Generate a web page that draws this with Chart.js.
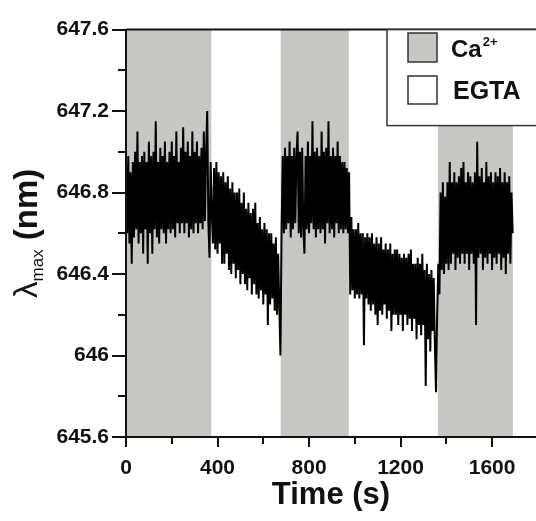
<!DOCTYPE html>
<html>
<head>
<meta charset="utf-8">
<script src="https://cdn.jsdelivr.net/npm/chart.js@4"></script>
<style>
  html, body { margin: 0; padding: 0; background: #fff; }
  #box { width: 536px; height: 521px; }
</style>
</head>
<body>
<div id="box"><canvas id="lambdaChart" width="536" height="521"></canvas></div>
<script>
// sample spacing of the trace (s)
const sampleStep = 5;

// start time of each recorded stretch (s)
const segStarts = [0, 380, 680, 980, 1370];

// lambda max (nm)
const seg1 = [646.95, 646.6, 646.98, 646.55, 646.9, 646.45, 646.95, 646.58, 647.0, 646.62,
              647.1, 646.55, 646.95, 646.6, 646.98, 646.5, 647.0, 646.62, 646.95, 646.45,
              647.05, 646.6, 646.98, 646.5, 647.0, 646.62, 647.15, 646.58, 646.95, 646.55,
              647.02, 646.62, 646.98, 646.6, 647.05, 646.55, 646.95, 646.62, 647.0, 646.6,
              647.05, 646.62, 646.98, 646.58, 647.1, 646.65, 646.95, 646.6, 647.02, 646.65,
              647.12, 646.6, 647.0, 646.65, 647.05, 646.58, 646.98, 646.62, 647.1, 646.6,
              647.0, 646.65, 647.05, 646.6, 646.98, 646.65, 647.02, 646.62, 647.1, 646.66,
              647.0, 647.2, 646.65, 646.48, 646.95, 646.7];
const seg2 = [646.55, 646.92, 646.52, 646.95, 646.5, 646.9, 646.55, 646.88, 646.45, 646.9,
              646.45, 646.85, 646.5, 646.88, 646.42, 646.82, 646.4, 646.85, 646.45, 646.8,
              646.38, 646.8, 646.42, 646.82, 646.35, 646.75, 646.4, 646.8, 646.35, 646.72,
              646.32, 646.75, 646.38, 646.7, 646.3, 646.72, 646.35, 646.75, 646.3, 646.65,
              646.28, 646.68, 646.32, 646.62, 646.25, 646.65, 646.3, 646.62, 646.15, 646.6,
              646.25, 646.6, 646.28, 646.55, 646.22, 646.58, 646.2, 646.5, 646.25, 646.0];
const seg3 = [646.62, 646.98, 646.6, 647.02, 646.62, 646.98, 646.65, 647.05, 646.58, 646.98,
              646.62, 647.02, 646.65, 646.98, 647.1, 646.6, 647.0, 646.58, 647.02, 646.62,
              646.5, 646.98, 646.62, 647.05, 646.6, 646.98, 646.65, 647.15, 646.62, 647.0,
              646.58, 647.02, 646.62, 646.98, 646.6, 647.1, 646.62, 647.0, 646.55, 647.02,
              646.65, 647.15, 646.6, 646.98, 646.62, 647.02, 646.58, 646.98, 646.65, 647.05,
              646.6, 646.98, 646.62, 646.95, 646.6, 646.95, 646.62, 646.92, 646.6, 646.9];
const seg4 = [646.3, 646.68, 646.32, 646.62, 646.28, 646.62, 646.3, 646.65, 646.28, 646.6,
              646.3, 646.6, 646.05, 646.58, 646.28, 646.6, 646.25, 646.58, 646.22, 646.6,
              646.25, 646.55, 646.2, 646.58, 646.15, 646.55, 646.22, 646.58, 646.2, 646.52,
              646.25, 646.55, 646.18, 646.52, 646.22, 646.55, 646.12, 646.5, 646.2, 646.52,
              646.2, 646.52, 646.15, 646.5, 646.2, 646.48, 646.12, 646.5, 646.2, 646.48,
              646.15, 646.5, 646.18, 646.52, 646.12, 646.45, 646.18, 646.45, 646.08, 646.48,
              646.15, 646.45, 646.1, 646.5, 646.15, 646.42, 645.85, 646.45, 646.08, 646.4,
              646.02, 646.42, 646.12, 646.38, 646.05, 645.82, 646.2, 646.45];
const seg5 = [646.3, 646.8, 646.42, 646.85, 646.4, 646.78, 646.45, 646.85, 646.42, 646.95,
              646.45, 646.85, 646.5, 646.9, 646.42, 646.85, 646.48, 646.88, 646.45, 646.92,
              646.5, 646.95, 646.45, 646.85, 646.5, 646.9, 646.42, 646.88, 646.5, 646.85,
              646.45, 646.9, 646.15, 647.05, 646.48, 646.88, 646.5, 646.92, 646.42, 646.85,
              646.48, 646.95, 646.45, 646.88, 646.5, 646.9, 646.42, 646.85, 646.48, 646.9,
              646.45, 646.88, 646.5, 646.92, 646.42, 646.85, 646.48, 646.9, 646.4, 646.85,
              646.5, 646.88, 646.45, 646.8, 646.6];

// Ca2+ perfusion windows (s)
const caBands = [[0, 373], [676, 974], [1363, 1691]];

// axes
const xTickValues = [0, 200, 400, 600, 800, 1000, 1200, 1400, 1600];
const xTickLabels = ['0', '', '400', '', '800', '', '1200', '', '1600'];
const yTickValues = [645.6, 645.8, 646, 646.2, 646.4, 646.6, 646.8, 647, 647.2, 647.4, 647.6];
const yTickLabels = ['645.6', '', '646', '', '646.4', '', '646.8', '', '647.2', '', '647.6'];

const legendLabels = ['Ca', 'EGTA'];

const FONT = '"Liberation Sans", Arial, Helvetica, sans-serif';
const BAND_GRAY = '#c7c7c3';

const points = [];
[seg1, seg2, seg3, seg4, seg5].forEach((seg, k) => {
    seg.forEach((v, i) => points.push({ x: segStarts[k] + i * sampleStep, y: v }));
});

const decor = {
    id: 'decor',
    beforeDatasetsDraw(chart) {
        const { ctx, chartArea: a, scales: { x } } = chart;
        ctx.save();
        ctx.fillStyle = BAND_GRAY;
        caBands.forEach(([s, e]) => {
            const x0 = x.getPixelForValue(s);
            const x1 = x.getPixelForValue(e);
            ctx.fillRect(x0, a.top, x1 - x0, a.bottom - a.top);
        });
        ctx.restore();
    },
    afterDraw(chart) {
        const { ctx, chartArea: a, scales: { x, y } } = chart;
        ctx.save();
        ctx.strokeStyle = '#111';
        ctx.lineWidth = 2;

        // frame: left, bottom, top
        ctx.beginPath();
        ctx.moveTo(a.left, a.top);
        ctx.lineTo(a.left, a.bottom);
        ctx.lineTo(a.right + 2, a.bottom);
        ctx.moveTo(a.left, a.top);
        ctx.lineTo(a.right + 2, a.top);
        ctx.stroke();

        // tick marks (outside)
        ctx.beginPath();
        yTickValues.forEach((v, i) => {
            const py = Math.round(y.getPixelForValue(v));
            const len = yTickLabels[i] ? 14 : 8;
            ctx.moveTo(a.left - len, py);
            ctx.lineTo(a.left, py);
        });
        xTickValues.forEach((v, i) => {
            const px = Math.round(x.getPixelForValue(v));
            const len = xTickLabels[i] ? 10 : 7;
            ctx.moveTo(px, a.bottom);
            ctx.lineTo(px, a.bottom + len);
        });
        ctx.stroke();

        // x title
        ctx.fillStyle = '#111';
        ctx.font = 'bold 31px ' + FONT;
        ctx.textAlign = 'center';
        ctx.textBaseline = 'alphabetic';
        ctx.fillText('Time (s)', (a.left + a.right) / 2, 504);

        // y title: lambda_max (nm)
        ctx.translate(37, (a.top + a.bottom) / 2);
        ctx.rotate(-Math.PI / 2);
        ctx.textAlign = 'left';
        const fLam = '33px ' + FONT;
        const fSub = '17px ' + FONT;
        const fNm = 'bold 33px ' + FONT;
        ctx.font = fLam; const wLam = ctx.measureText('\u03bb').width;
        ctx.font = fSub; const wSub = ctx.measureText('max').width;
        ctx.font = fNm; const wNm = ctx.measureText(' (nm)').width;
        let cx = -(wLam + wSub + wNm) / 2;
        ctx.font = fLam; ctx.fillText('\u03bb', cx, 0); cx += wLam;
        ctx.font = fSub; ctx.fillText('max', cx, 6); cx += wSub;
        ctx.font = fNm; ctx.fillText(' (nm)', cx, 0);
        ctx.setTransform(1, 0, 0, 1, 0, 0);

        // legend
        ctx.fillStyle = '#fff';
        ctx.fillRect(387, a.top, 160, 96);
        ctx.lineWidth = 1.5;
        ctx.strokeStyle = '#333';
        ctx.strokeRect(387, a.top, 160, 96);
        ctx.fillStyle = BAND_GRAY;
        ctx.fillRect(408, 33, 29, 29);
        ctx.strokeRect(408, 33, 29, 29);
        ctx.fillStyle = '#fff';
        ctx.fillRect(408, 76, 29, 28);
        ctx.strokeRect(408, 76, 29, 28);
        ctx.fillStyle = '#111';
        ctx.font = 'bold 24px ' + FONT;
        ctx.fillText(legendLabels[0], 451, 57);
        const wCa = ctx.measureText(legendLabels[0]).width;
        ctx.font = 'bold 13px ' + FONT;
        ctx.fillText('2+', 451 + wCa + 1, 46);
        ctx.font = 'bold 25px ' + FONT;
        ctx.fillText(legendLabels[1], 453, 99);
        ctx.restore();
    }
};

new Chart(document.getElementById('lambdaChart'), {
    type: 'line',
    data: {
        datasets: [{
            data: points,
            borderColor: '#000',
            borderWidth: 2,
            pointRadius: 0,
            tension: 0
        }]
    },
    options: {
        responsive: false,
        animation: false,
        layout: { padding: { top: 24, left: 0, right: 0, bottom: 0 } },
        plugins: {
            legend: { display: false },
            tooltip: { enabled: false }
        },
        scales: {
            x: {
                type: 'linear',
                min: 0,
                max: 1792,
                afterBuildTicks: s => { s.ticks = xTickValues.map(v => ({ value: v })); },
                afterFit: s => { s.height = 84; },
                grid: { display: false, drawTicks: false },
                border: { display: false },
                ticks: {
                    autoSkip: false,
                    maxRotation: 0,
                    padding: 19,
                    color: '#111',
                    font: { family: FONT, size: 21, weight: 'bold' },
                    callback: (v, i) => xTickLabels[i]
                }
            },
            y: {
                min: 645.6,
                max: 647.6,
                afterBuildTicks: s => { s.ticks = yTickValues.map(v => ({ value: v })); },
                afterFit: s => { s.width = 126; },
                grid: { display: false, drawTicks: false },
                border: { display: false },
                ticks: {
                    autoSkip: false,
                    padding: 17,
                    color: '#111',
                    font: { family: FONT, size: 21, weight: 'bold' },
                    callback: (v, i) => yTickLabels[i]
                }
            }
        }
    },
    plugins: [decor]
});
</script>
</body>
</html>
